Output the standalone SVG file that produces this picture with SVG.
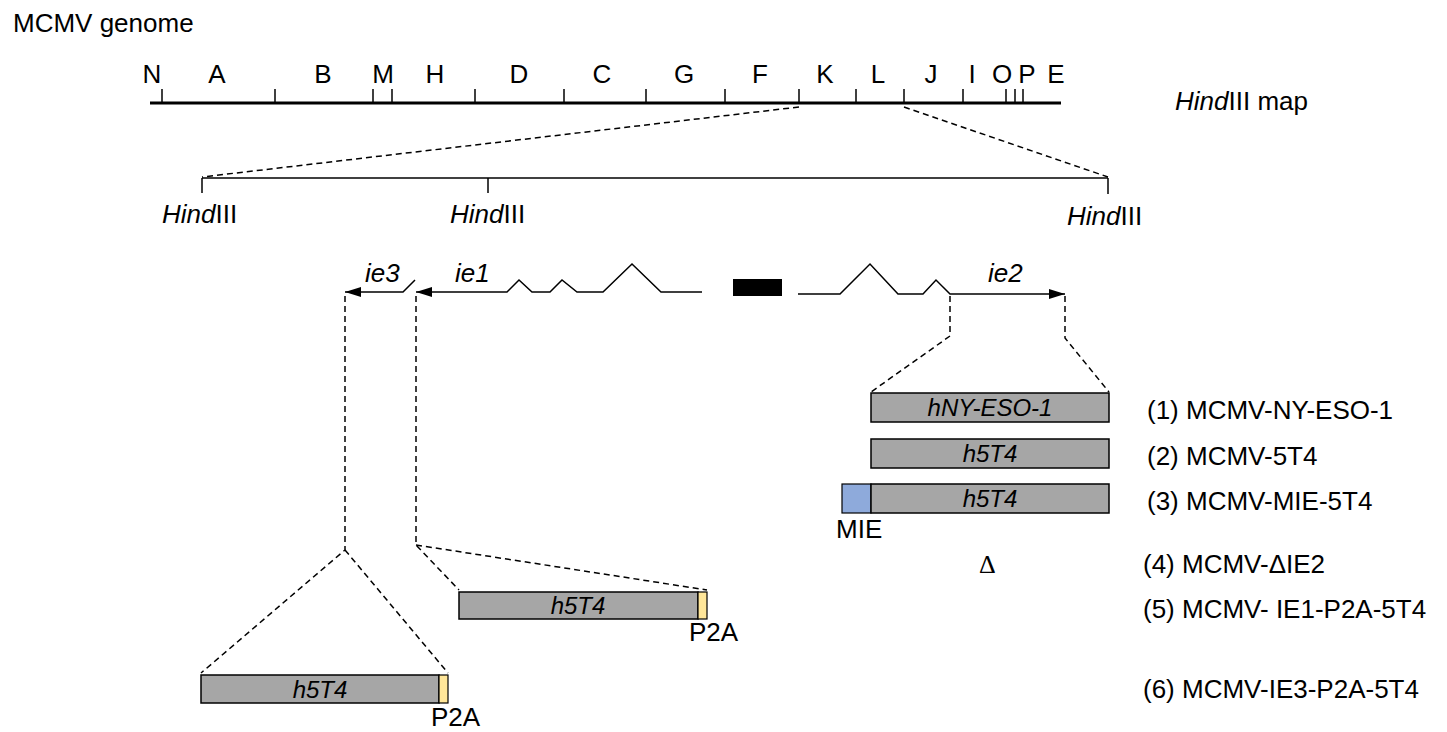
<svg xmlns="http://www.w3.org/2000/svg" width="1447" height="732" viewBox="0 0 1447 732">
  <defs>
    <style>
      text { font-family: "Liberation Sans", Arial, sans-serif; font-size: 26px; fill: #000; }
      .it { font-style: italic; }
      .mid { text-anchor: middle; }
      .ln { stroke: #000; stroke-width: 1.5; fill: none; }
      .dash { stroke: #000; stroke-width: 1.5; fill: none; stroke-dasharray: 6 4; }
      .gene { fill: #a6a6a6; stroke: #000; stroke-width: 1.5; }
      .p2a { fill: #ffe699; stroke: #000; stroke-width: 1.2; }
      .mie { fill: #8eaadb; stroke: #000; stroke-width: 1.2; }
    </style>
    <marker id="arr" viewBox="0 0 10 10" refX="10" refY="5" markerWidth="10" markerHeight="10" markerUnits="userSpaceOnUse" orient="auto">
      <path d="M0,0 L10,5 L0,10 z" fill="#000"/>
    </marker>
    <marker id="arrL" viewBox="0 0 16 10" refX="16" refY="5" markerWidth="16" markerHeight="10" markerUnits="userSpaceOnUse" orient="auto">
      <path d="M0,0 L16,5 L0,10 z" fill="#000"/>
    </marker>
  </defs>
  <rect width="1447" height="732" fill="#fff"/>

  <text x="13" y="32">MCMV genome</text>

  <!-- HindIII map of the whole genome -->
  <g id="genome-map">
    <line x1="150" y1="103" x2="1061" y2="103" stroke="#000" stroke-width="3"/>
    <g stroke="#000" stroke-width="1.5">
      <line x1="162" y1="89" x2="162" y2="103"/>
      <line x1="275" y1="89" x2="275" y2="103"/>
      <line x1="373" y1="89" x2="373" y2="103"/>
      <line x1="392" y1="89" x2="392" y2="103"/>
      <line x1="475" y1="89" x2="475" y2="103"/>
      <line x1="564" y1="89" x2="564" y2="103"/>
      <line x1="646" y1="89" x2="646" y2="103"/>
      <line x1="725" y1="89" x2="725" y2="103"/>
      <line x1="799" y1="89" x2="799" y2="103"/>
      <line x1="856" y1="89" x2="856" y2="103"/>
      <line x1="904" y1="89" x2="904" y2="103"/>
      <line x1="963" y1="89" x2="963" y2="103"/>
      <line x1="1006" y1="89" x2="1006" y2="103"/>
      <line x1="1015" y1="89" x2="1015" y2="103"/>
      <line x1="1023" y1="89" x2="1023" y2="103"/>
    </g>
    <g class="mid">
      <text class="mid" x="152" y="83">N</text>
      <text class="mid" x="217" y="83">A</text>
      <text class="mid" x="323" y="83">B</text>
      <text class="mid" x="383" y="83">M</text>
      <text class="mid" x="435" y="83">H</text>
      <text class="mid" x="519" y="83">D</text>
      <text class="mid" x="602" y="83">C</text>
      <text class="mid" x="684" y="83">G</text>
      <text class="mid" x="760" y="83">F</text>
      <text class="mid" x="825" y="83">K</text>
      <text class="mid" x="878" y="83">L</text>
      <text class="mid" x="931" y="83">J</text>
      <text class="mid" x="972" y="83">I</text>
      <text class="mid" x="1002" y="83">O</text>
      <text class="mid" x="1027" y="83">P</text>
      <text class="mid" x="1056" y="83">E</text>
    </g>
    <text x="1175" y="110"><tspan class="it">Hind</tspan>III map</text>
  </g>

  <!-- enlarged HindIII fragment -->
  <g id="fragment">
    <line x1="202" y1="178" x2="1108" y2="178" class="ln"/>
    <line x1="202" y1="178" x2="202" y2="193" class="ln"/>
    <line x1="488" y1="178" x2="488" y2="193" class="ln"/>
    <line x1="1108" y1="178" x2="1108" y2="194" class="ln"/>
    <text x="162" y="223"><tspan class="it">Hind</tspan>III</text>
    <text x="450" y="223"><tspan class="it">Hind</tspan>III</text>
    <text x="1067" y="225"><tspan class="it">Hind</tspan>III</text>
  </g>

  <!-- MIE locus: ie3, ie1, enhancer, ie2 -->
  <g id="ie-locus">
    <polyline class="ln" points="415,280 403,292 345,292" marker-end="url(#arrL)"/>
    <polyline class="ln" points="702,292 661,292 632,264 603,292 577,292 562,280 550,292 532,292 519,280 507,292 416,292" marker-end="url(#arrL)"/>
    <rect x="733" y="279" width="49" height="17" fill="#000"/>
    <polyline class="ln" points="798,294 840,294 870,264 898,294 923,294 936,280 950,294 1065,294" marker-end="url(#arrL)"/>
    <text class="it" x="365" y="282">ie3</text>
    <text class="it" x="455" y="282">ie1</text>
    <text class="it" x="988" y="282">ie2</text>
  </g>

  <!-- dashed connectors -->
  <g id="connectors">
    <line class="dash" x1="799" y1="107" x2="202" y2="177"/>
    <line class="dash" x1="904" y1="107" x2="1108" y2="177"/>
    <polyline class="dash" points="950,296 950,336 871,392"/>
    <polyline class="dash" points="1065,296 1065,338 1109,392"/>
    <polyline class="dash" points="416,296 416,545 459,590"/>
    <line class="dash" x1="416" y1="545" x2="707" y2="590"/>
    <polyline class="dash" points="345,296 345,550 201,673"/>
    <line class="dash" x1="345" y1="550" x2="448" y2="673"/>
  </g>

  <!-- inserts -->
  <g id="construct-1">
    <rect class="gene" x="871" y="393" width="238" height="29"/>
    <text class="it mid" x="990" y="416" style="font-size:24px">hNY-ESO-1</text>
    <text x="1147" y="419">(1) MCMV-NY-ESO-1</text>
  </g>
  <g id="construct-2">
    <rect class="gene" x="871" y="439" width="238" height="29"/>
    <text class="it mid" x="990" y="462" style="font-size:24px">h5T4</text>
    <text x="1147" y="465">(2) MCMV-5T4</text>
  </g>
  <g id="construct-3">
    <rect class="mie" x="842" y="484" width="29" height="29"/>
    <rect class="gene" x="871" y="484" width="238" height="29"/>
    <text class="it mid" x="990" y="507" style="font-size:24px">h5T4</text>
    <text x="836" y="538">MIE</text>
    <text x="1147" y="510">(3) MCMV-MIE-5T4</text>
  </g>
  <g id="construct-4">
    <text x="979" y="573" style="font-family:'Liberation Serif',serif">Δ</text>
    <text x="1143" y="573">(4) MCMV-ΔIE2</text>
  </g>
  <g id="construct-5">
    <rect class="gene" x="459" y="592" width="239" height="27"/>
    <rect class="p2a" x="698" y="592" width="9" height="27"/>
    <text class="it mid" x="578" y="614" style="font-size:24px">h5T4</text>
    <text x="689" y="641">P2A</text>
    <text x="1143" y="618">(5) MCMV- IE1-P2A-5T4</text>
  </g>
  <g id="construct-6">
    <rect class="gene" x="201" y="675" width="238" height="28"/>
    <rect class="p2a" x="439" y="675" width="9" height="28"/>
    <text class="it mid" x="320" y="698" style="font-size:24px">h5T4</text>
    <text x="431" y="726">P2A</text>
    <text x="1143" y="698">(6) MCMV-IE3-P2A-5T4</text>
  </g>
</svg>
